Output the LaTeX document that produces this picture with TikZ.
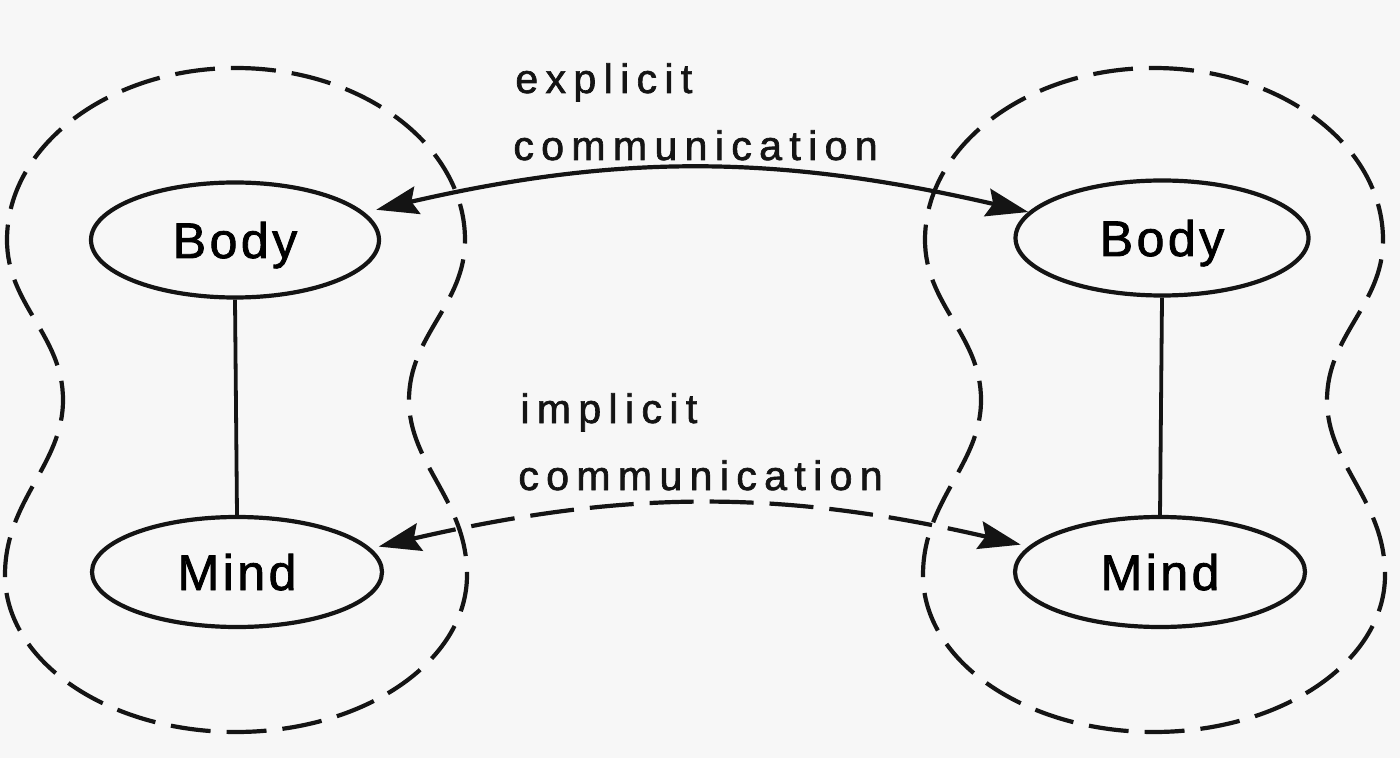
\documentclass[tikz,border=0pt]{standalone}
\usepackage{fontspec}
\setmainfont{Liberation Sans}
\newfontfamily\lblfont[LetterSpace=18,FakeBold=1.6]{Liberation Sans}
\newfontfamily\ndfont[LetterSpace=7,FakeBold=1.6]{Liberation Sans}
\usetikzlibrary{shapes.geometric,arrows.meta}
\definecolor{paper}{RGB}{247,247,247}
\definecolor{ink}{RGB}{20,20,20}
\tikzset{
  part/.style={ellipse, draw=ink, line width=2.1pt, inner sep=0pt,
    text height=18pt, text depth=0pt, font=\ndfont\fontsize{25}{28}\selectfont},
  lbl/.style={anchor=base west, inner sep=0pt, text=ink, font=\lblfont\fontsize{20.5}{24}\selectfont},
  blob/.style={draw=ink, line width=2.1pt, dash pattern=on 20pt off 8pt},
  link/.style={draw=ink, line width=1.9pt},
  comm/.style={draw=ink, line width=2.1pt, {Stealth[length=21pt,width=14pt,inset=3pt]}-{Stealth[length=21pt,width=14pt,inset=3pt]}},
  implicitcomm/.style={comm, dash pattern=on 22pt off 8pt},
}
\begin{document}
\begin{tikzpicture}[x=0.5pt,y=-0.5pt]
\fill[paper] (0,0) rectangle (1400,758);
\useasboundingbox (0,0) rectangle (1400,758);
% dashed outlines
\foreach \cx in {236,1154}{
  \draw[blob, shift={(\cx,0)}]
    (0,68) .. controls (126,68) and (229,145) .. (229,240)
    .. controls (229,305) and (173,335) .. (173,400)
    .. controls (173,465) and (231,500) .. (231,575)
    .. controls (231,662) and (127,732) .. (0,732)
    .. controls (-127,732) and (-231,662) .. (-231,575)
    .. controls (-231,500) and (-173,465) .. (-173,400)
    .. controls (-173,335) and (-229,305) .. (-229,240)
    .. controls (-229,145) and (-126,68) .. (0,68) -- cycle;
}
% nodes
\node[part, minimum width=144pt, minimum height=57.5pt] (lb) at (235,240) {Body};
\node[part, minimum width=145pt, minimum height=55pt] (lm) at (237,572) {Mind};
\node[part, minimum width=146.5pt, minimum height=57.5pt] (rb) at (1162,238) {Body};
\node[part, minimum width=145pt, minimum height=55pt] (rm) at (1160,572) {Mind};
\draw[link] (lb.south) -- (lm.north);
\draw[link] (rb.south) -- (rm.north);
% labels
\node[lbl] (ex1) at (515,93) {explicit};
\node[lbl] (ex2) at (513,160) {communication};
\node[lbl] (im1) at (520,423) {implicit};
\node[lbl] (im2) at (518,490) {communication};
% connectors
\draw[comm, shorten <=6pt] (lb.12) to[out=13, in=167] (rb.169);
\draw[implicitcomm, shorten <=4pt, shorten >=4pt] (lm.10) to[out=13, in=167] (rm.169);
\end{tikzpicture}
\end{document}
